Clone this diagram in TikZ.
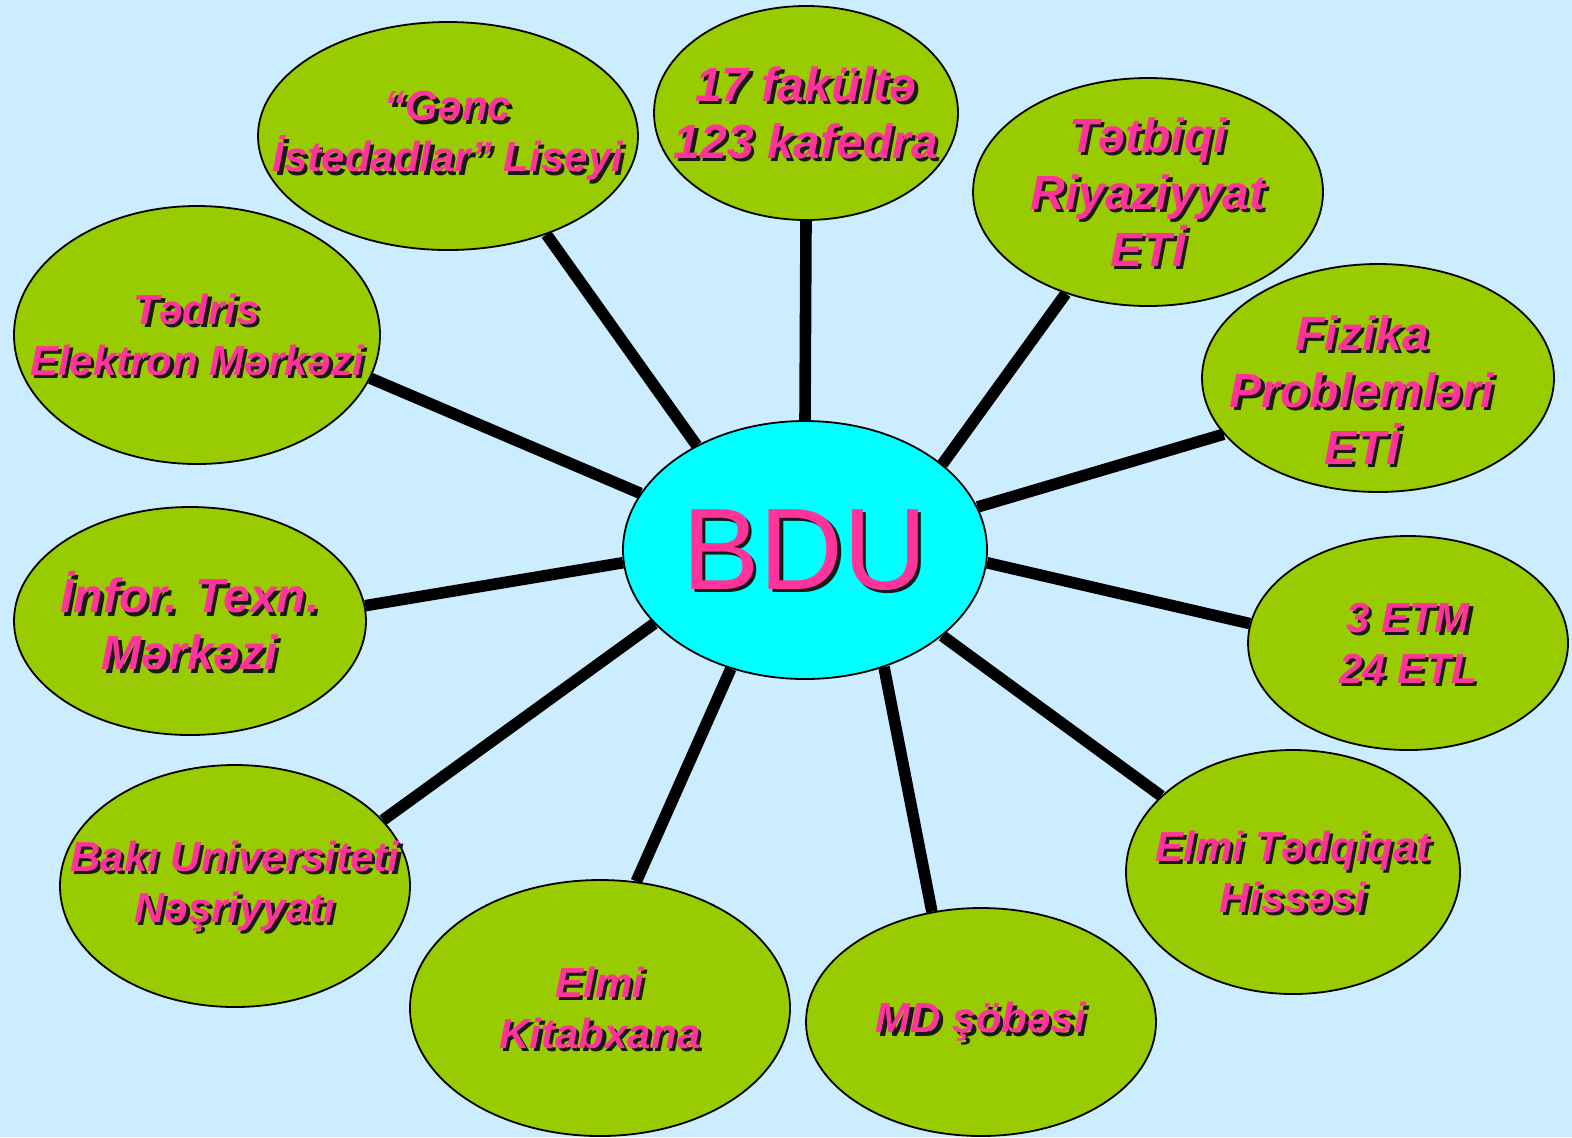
\documentclass[tikz,border=0pt]{standalone}
\usepackage{fontspec}
\setmainfont{Liberation Sans}
\usetikzlibrary{shapes.geometric}
\definecolor{bgblue}{RGB}{204,236,255}
\definecolor{mgreen}{RGB}{153,204,0}
\definecolor{mcyan}{RGB}{0,255,255}
\definecolor{mpink}{RGB}{255,51,153}
\tikzset{oval/.style n args = {2}{ellipse, draw, line width = 0.9pt, fill = mgreen, inner sep = 0, minimum width = #1pt, minimum height = #2pt}}
\tikzset{txt/.style = {text = mpink, align = center, inner sep = 0, font = \bfseries\itshape\fontsize{21}{25.5}\selectfont}}
\tikzset{bigtxt/.style = {font = \bfseries\itshape\fontsize{24}{28.5}\selectfont}}
\tikzset{bdutxt/.style = {font = \fontsize{58}{62}\selectfont}}
\tikzset{spoke/.style = {line width = 5.8pt}}
\newcommand{\ovaltext}[3][]{%
  \node [txt, #1, text = black!90, xshift = 1.6pt, yshift = -1.6pt] (#2s) at (#2) {#3};
  \node [txt, #1] (#2t) at (#2) {#3};}

\begin{document}
\begin{tikzpicture}[x = 0.5pt, y = -0.5pt]
  \fill [bgblue] (0, 0) rectangle (1572, 1137);
  \useasboundingbox (0, 0) rectangle (1572, 1137);

  \node [oval = {190}{114}] (lic) at (448, 136) {};
  \node [oval = {152}{107}] (fak) at (806, 113) {};
  \node [oval = {175}{114}] (tri) at (1148, 192) {};
  \node [oval = {176}{114}] (fiz) at (1378, 378) {};
  \node [oval = {160}{107}] (etm) at (1408, 643) {};
  \node [oval = {167}{122}] (eth) at (1293, 872) {};
  \node [oval = {175}{114}] (mds) at (981, 1022) {};
  \node [oval = {190}{128}] (kit) at (600, 1008) {};
  \node [oval = {175}{121}] (nas) at (235, 886) {};
  \node [oval = {176}{114}] (itm) at (190, 621) {};
  \node [oval = {183}{129}] (tem) at (197, 335) {};
  \node [oval = {182}{129}, fill = mcyan] (bdu) at (805, 550) {};

  \draw [spoke] (bdu.90) -- (fak.-90);
  \draw [spoke] (bdu.136) -- (lic.-45);
  \draw [spoke] (bdu.161) -- (tem.-14);
  \draw [spoke] (bdu.184) -- (itm.5);
  \draw [spoke] (bdu.206) -- (nas.24);
  \draw [spoke] (bdu.238) -- (kit.74);
  \draw [spoke] (bdu.-56) -- (mds.114);
  \draw [spoke] (bdu.-32) -- (eth.150);
  \draw [spoke] (bdu.-4) -- (etm.173);
  \draw [spoke] (bdu.14) -- (fiz.200);
  \draw [spoke] (bdu.32) -- (tri.231);

  \ovaltext{lic}{“Gənc\\İstedadlar” Liseyi}
  \ovaltext[bigtxt]{fak}{17 fakültə\\123 kafedra}
  \ovaltext[bigtxt]{tri}{Tətbiqi\\Riyaziyyat\\ETİ}
  \ovaltext[bigtxt, xshift = -8pt, yshift = -6pt]{fiz}{Fizika\\Problemləri\\ETİ}
  \ovaltext{etm}{3 ETM\\24 ETL}
  \ovaltext{eth}{Elmi Tədqiqat\\Hissəsi}
  \ovaltext{mds}{MD şöbəsi}
  \ovaltext{kit}{Elmi\\Kitabxana}
  \ovaltext{nas}{Bakı Universiteti\\Nəşriyyatı}
  \ovaltext[bigtxt]{itm}{İnfor. Texn.\\Mərkəzi}
  \ovaltext{tem}{Tədris\\Elektron Mərkəzi}
  \ovaltext[bdutxt]{bdu}{BDU}
\end{tikzpicture}
\end{document}
